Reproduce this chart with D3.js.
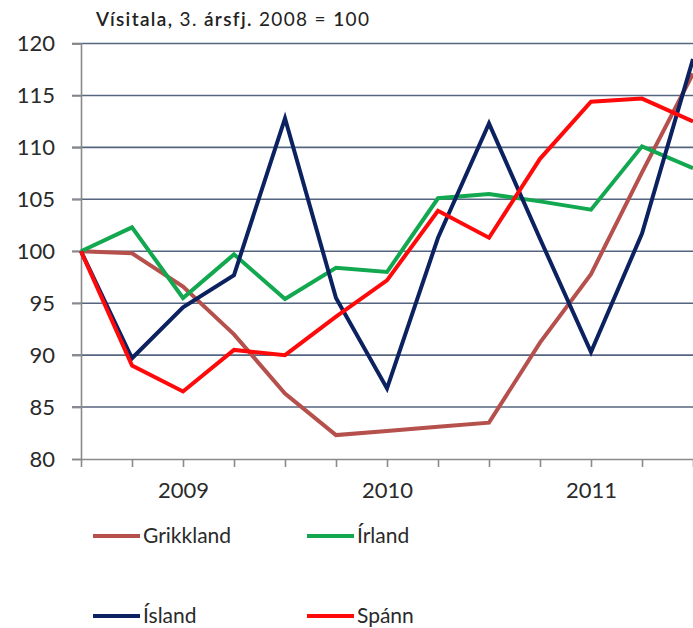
<!DOCTYPE html>
<html>
<head>
<meta charset="utf-8">
<script src="https://cdn.jsdelivr.net/npm/d3@7"></script>
<style>
  body { margin: 0; background: #fff; }
  svg { display: block; font-family: Lato, "Noto Sans", sans-serif; }
</style>
</head>
<body>
<div id="chart"></div>
<script>
// quarters, 2008Q3 .. 2011Q3
const quarters = ["2008Q3", "2008Q4", "2009Q1", "2009Q2", "2009Q3", "2009Q4",
  "2010Q1", "2010Q2", "2010Q3", "2010Q4", "2011Q1", "2011Q2", "2011Q3"];

const grikkland = [100, 99.8, 96.6, 92.0, 86.3, 82.3, 82.7, 83.1, 83.5, 91.2, 97.8, 107.6, 117.1];
const irland    = [100, 102.3, 95.5, 99.7, 95.4, 98.4, 98.0, 105.1, 105.5, 104.8, 104.0, 110.1, 108.0];
const island    = [100, 89.7, 94.6, 97.7, 112.8, 95.5, 86.8, 101.3, 112.3, 101.2, 90.3, 101.7, 118.5];
const spann     = [100, 89.0, 86.5, 90.5, 90.0, 93.7, 97.2, 103.9, 101.3, 108.9, 114.4, 114.7, 112.5];

const yTicks = [80, 85, 90, 95, 100, 105, 110, 115, 120];

const seriesNames = ["Grikkland", "Írland", "Ísland", "Spánn"];
const seriesColors = ["#b5504c", "#12a850", "#0c2160", "#ff0a0a"];
const seriesValues = [grikkland, irland, island, spann];

const width = 693, height = 628;
const plotLeft = 81, plotRight = 693, plotTop = 43.5, plotBottom = 459;

const svg = d3.select("#chart").append("svg")
  .attr("width", width)
  .attr("height", height);

const x = d3.scalePoint()
  .domain(quarters)
  .range([plotLeft, plotRight]);

const y = d3.scaleLinear()
  .domain([80, 120])
  .range([plotBottom, plotTop]);

// title
const title = svg.append("text")
  .attr("x", 96)
  .attr("y", 26)
  .attr("font-size", 19)
  .attr("letter-spacing", 1.35)
  .attr("fill", "#222");
title.append("tspan").attr("font-weight", 600).text("Vísitala, ");
title.append("tspan").text("3. ");
title.append("tspan").attr("font-weight", 600).text("ársfj. ");
title.append("tspan").text("2008 = ");
title.append("tspan").attr("font-weight", 600).text("1");
title.append("tspan").text("00");

// grid lines
svg.append("g")
  .selectAll("line")
  .data(yTicks.filter(d => d > 80))
  .join("line")
  .attr("x1", plotLeft - 9)
  .attr("x2", width)
  .attr("y1", d => y(d))
  .attr("y2", d => y(d))
  .attr("stroke", "#56657f")
  .attr("stroke-width", 1.6);

// y axis
const yAxis = d3.axisLeft(y)
  .tickValues(yTicks)
  .tickSize(9)
  .tickPadding(17);

svg.append("g")
  .attr("transform", `translate(${plotLeft},0)`)
  .call(yAxis)
  .call(g => g.select(".domain").attr("stroke", "#8a8a8a").attr("stroke-width", 1.6))
  .call(g => g.selectAll(".tick line").attr("stroke", "#8a8a8a").attr("stroke-width", 1.6))
  .call(g => g.selectAll(".tick text")
    .attr("font-size", 22)
    .attr("fill", "#2a2a2a")
    .attr("font-family", "Lato, 'Noto Sans', sans-serif"));

// x axis
const xAxis = d3.axisBottom(x)
  .tickSize(8)
  .tickSizeOuter(0)
  .tickPadding(15)
  .tickFormat(d => d.endsWith("Q1") ? d.slice(0, 4) : "");

svg.append("g")
  .attr("transform", `translate(0,${plotBottom})`)
  .call(xAxis)
  .call(g => g.select(".domain").attr("stroke", "#8a8a8a").attr("stroke-width", 1.6))
  .call(g => g.selectAll(".tick line").attr("stroke", "#8a8a8a").attr("stroke-width", 1.6))
  .call(g => g.selectAll(".tick text")
    .attr("font-size", 22)
    .attr("fill", "#2a2a2a")
    .attr("font-family", "Lato, 'Noto Sans', sans-serif"));

// lines
const line = d3.line()
  .x((d, i) => x(quarters[i]))
  .y(d => y(d));

svg.append("g")
  .selectAll("path")
  .data(seriesValues)
  .join("path")
  .attr("fill", "none")
  .attr("stroke", (d, i) => seriesColors[i])
  .attr("stroke-width", 4)
  .attr("stroke-linejoin", "miter")
  .attr("d", line);

// legend
const legendPos = [[93, 536], [307, 536], [93, 616], [307, 616]];

const legend = svg.append("g")
  .selectAll("g")
  .data(seriesNames)
  .join("g")
  .attr("transform", (d, i) => `translate(${legendPos[i][0]},${legendPos[i][1]})`);

legend.append("line")
  .attr("x1", 0)
  .attr("x2", 47)
  .attr("stroke", (d, i) => seriesColors[i])
  .attr("stroke-width", 4);

legend.append("text")
  .attr("x", 50)
  .attr("dy", "0.35em")
  .attr("font-size", 21)
  .attr("fill", "#2a2a2a")
  .text(d => d);
</script>
</body>
</html>
